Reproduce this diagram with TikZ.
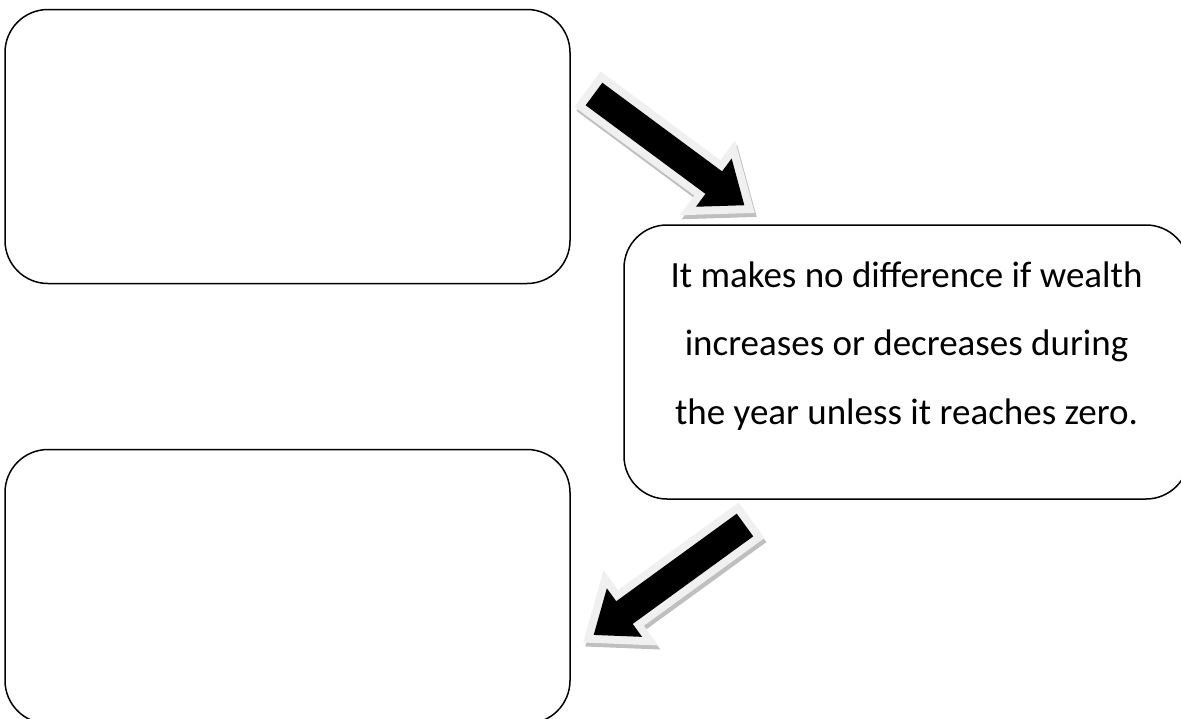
\documentclass[tikz,border=0pt]{standalone}
\usepackage{fontspec}
\setmainfont{Carlito}
\usepackage{tikz}
\usetikzlibrary{
  calc}

\tikzset{
  box/.style={draw, line width=1.5pt, rounded corners=43pt,
    minimum width=565pt, minimum height=274pt, inner sep=0pt},
  arrowshadow/.style={fill=black!25, draw=black!25, line width=16pt, line join=miter},
  arrowrim/.style={fill=black!6, draw=black!6, line width=16pt, line join=miter},
  arrowbody/.style={fill=black},
  pics/blockarrow/.style={code={
    \path[#1] (0,-14) -- (149,-14) -- (149,-30) -- (187,0)
      -- (149,30) -- (149,14) -- (0,14) -- cycle;
  }}
}

\begin{document}
\begin{tikzpicture}[x=1pt, y=-1pt]
\useasboundingbox (0,0) rectangle (1181,718);
\node[box] (above) at (287.5,146.5) {};
\node[box] (note) at (906.5,362) {};
\node[box] (below) at (287.5,586.5) {};
\node[
  font=\fontsize{37}{68.5}\selectfont,
  align=center
] (notetext) at ([yshift=16pt]note.center)
  {It makes no difference if wealth\\
   increases or decreases during\\
   the year unless it reaches zero.};
\coordinate (gain) at (594,94);
\coordinate (loss) at (745,525);
\pic[rotate=-36.5] at ($(gain)+(2,4)$) {blockarrow=arrowshadow};
\pic[rotate=-36.5] at (gain) {blockarrow=arrowrim};
\pic[rotate=-36.5] at (gain) {blockarrow=arrowbody};
\pic[rotate=-144] at ($(loss)+(2,4)$) {blockarrow=arrowshadow};
\pic[rotate=-144] at (loss) {blockarrow=arrowrim};
\pic[rotate=-144] at (loss) {blockarrow=arrowbody};
\end{tikzpicture}
\end{document}
